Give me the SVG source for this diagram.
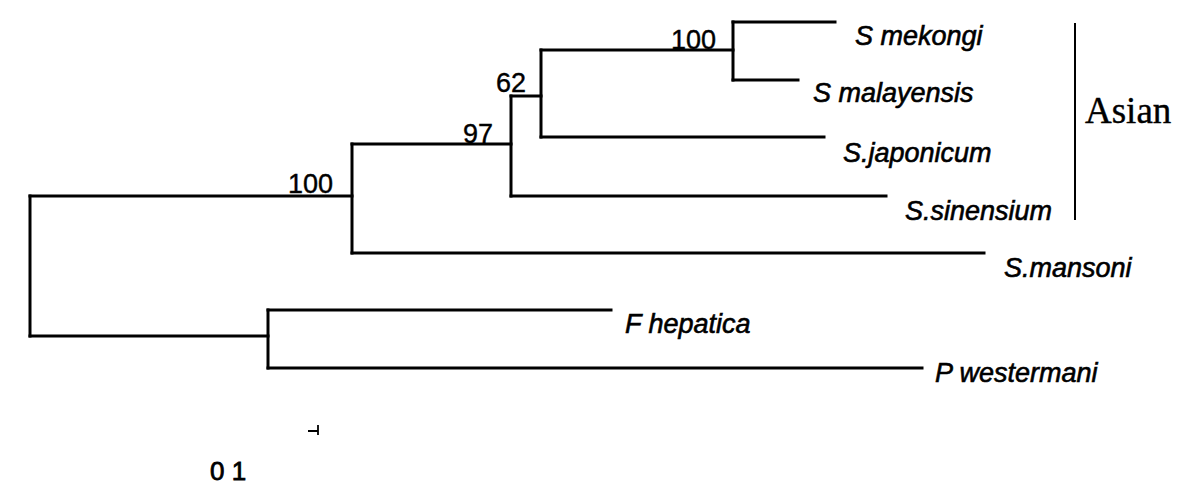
<svg xmlns="http://www.w3.org/2000/svg" width="1193" height="488" viewBox="0 0 1193 488">
<style>
.br{fill:none;stroke:#000;stroke-width:3;stroke-linecap:square}
.sp{font-family:"Liberation Sans",Arial,sans-serif;font-style:italic;font-size:27px;fill:#000;stroke:#000;stroke-width:0.6}
.bs{font-family:"Liberation Sans",Arial,sans-serif;font-size:27px;fill:#000;text-anchor:end;stroke:#000;stroke-width:0.4}
.grp{font-family:"Liberation Serif","Times New Roman",serif;font-size:37px;fill:#000;stroke:#000;stroke-width:0.4}
.sc{font-family:"Liberation Sans",Arial,sans-serif;font-size:26px;fill:#000;stroke:#000;stroke-width:0.8}
</style>
<rect width="1193" height="488" fill="#fff"/>
<g id="connectors">
<path class="br" d="M30,196 V336"/>
<path class="br" d="M30,196 H352"/>
<path class="br" d="M30,336 H268"/>
<path class="br" d="M352,144 V253"/>
<path class="br" d="M352,144 H511"/>
<path class="br" d="M352,253 H984"/>
<path class="br" d="M511,96 V196"/>
<path class="br" d="M511,96 H541"/>
<path class="br" d="M511,196 H886"/>
<path class="br" d="M541,50 V137"/>
<path class="br" d="M541,50 H733"/>
<path class="br" d="M541,137 H824"/>
<path class="br" d="M733,22 V80"/>
<path class="br" d="M733,22 H835"/>
<path class="br" d="M733,80 H798"/>
<path class="br" d="M268,310 V368"/>
<path class="br" d="M268,310 H611"/>
<path class="br" d="M268,368 H922"/>
</g>
<g id="node-root-100"><text class="bs" x="333" y="193">100</text></g>
<g id="node-97"><text class="bs" x="493" y="143">97</text></g>
<g id="node-62"><text class="bs" x="526" y="92">62</text></g>
<g id="node-100-top"><text class="bs" x="716" y="49">100</text></g>
<g id="leaf-mekongi"><text class="sp" x="855" y="45">S mekongi</text></g>
<g id="leaf-malayensis"><text class="sp" x="813" y="102">S malayensis</text></g>
<g id="leaf-japonicum"><text class="sp" x="843" y="162">S.japonicum</text></g>
<g id="leaf-sinensium"><text class="sp" x="905" y="220">S.sinensium</text></g>
<g id="leaf-mansoni"><text class="sp" x="1004" y="277">S.mansoni</text></g>
<g id="leaf-hepatica"><text class="sp" x="625" y="333">F hepatica</text></g>
<g id="leaf-westermani"><text class="sp" x="935" y="382">P westermani</text></g>
<g id="group-asian">
<line x1="1075" y1="23" x2="1075" y2="220" stroke="#000" stroke-width="2"/>
<text class="grp" x="1085" y="123">Asian</text>
</g>
<g id="scale-bar">
<path d="M308,431 H318 M318,425 V435" fill="none" stroke="#000" stroke-width="1.8"/>
<text class="sc" x="210" y="480">0 1</text>
</g>
</svg>
